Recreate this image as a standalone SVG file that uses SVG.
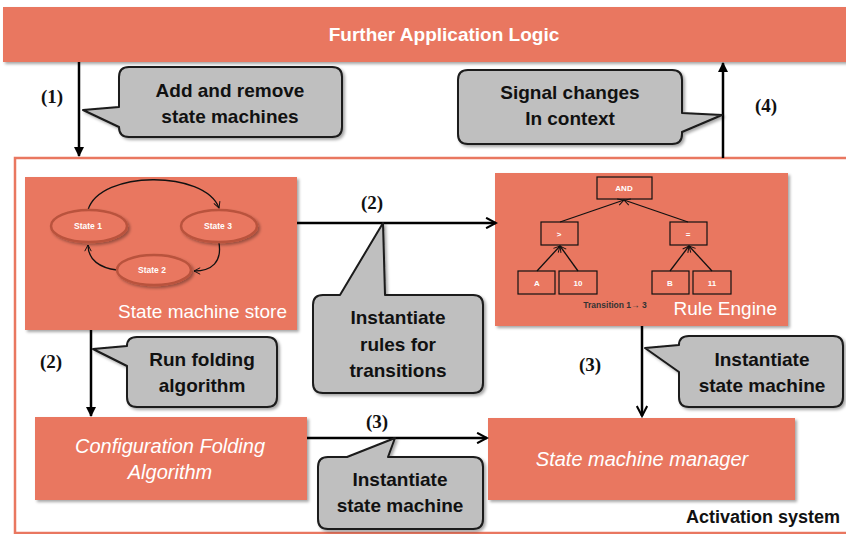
<svg xmlns="http://www.w3.org/2000/svg" width="846" height="534" viewBox="0 0 846 534">
<defs>
<style>
.box{fill:#E97760;}
.sh{filter:url(#shadow);}
.co{fill:#BFBFBF;stroke:#1a1a1a;stroke-width:2;stroke-linejoin:round;}
.ct{font-family:"Liberation Sans",Arial,sans-serif;font-weight:bold;font-size:19px;fill:#111;text-anchor:middle;}
.wt{font-family:"Liberation Sans",Arial,sans-serif;font-size:19px;fill:#fff;}
.wi{font-family:"Liberation Sans",Arial,sans-serif;font-size:20px;fill:#fff;font-style:italic;text-anchor:middle;}
.num{font-family:"Liberation Serif","Times New Roman",serif;font-weight:bold;font-size:19px;fill:#111;text-anchor:middle;}
.ar{fill:none;stroke:#000;stroke-width:2.5;}
.st{fill:#E97760;stroke:#B9533D;stroke-width:2.5;}
.sl{font-family:"Liberation Sans",Arial,sans-serif;font-weight:bold;font-size:8.5px;fill:#fff;text-anchor:middle;}
.ta{fill:none;stroke:#111;stroke-width:1.3;}
.tb{fill:none;stroke:#111;stroke-width:1.2;}
.tl{font-family:"Liberation Sans",Arial,sans-serif;font-weight:bold;font-size:8px;fill:#fff;text-anchor:middle;}
</style>
<filter id="shadow" x="-10%" y="-10%" width="130%" height="130%">
<feDropShadow dx="2" dy="2" stdDeviation="1.5" flood-color="#000" flood-opacity="0.35"/>
</filter>
<marker id="fill" viewBox="0 0 10 10" refX="9" refY="5" markerWidth="4" markerHeight="4" orient="auto" markerUnits="strokeWidth">
<path d="M0,0 L10,5 L0,10 Z" fill="#000"/>
</marker>
<marker id="open" viewBox="0 0 12 12" refX="10.5" refY="6" markerWidth="5" markerHeight="5" orient="auto" markerUnits="strokeWidth">
<path d="M1,1 L10.5,6 L1,11" fill="none" stroke="#000" stroke-width="2"/>
</marker>
<marker id="small" viewBox="0 0 12 12" refX="10.5" refY="6" markerWidth="6" markerHeight="6" orient="auto" markerUnits="strokeWidth">
<path d="M1,1 L10.5,6 L1,11" fill="none" stroke="#111" stroke-width="1.5"/>
</marker>
</defs>

<rect x="0" y="0" width="846" height="534" fill="#fff"/>

<g id="further-application-logic">
<rect class="box sh" x="3" y="7" width="850" height="55"/>
<text x="444" y="41" text-anchor="middle" font-family="'Liberation Sans',Arial,sans-serif" font-weight="bold" font-size="19" fill="#fff">Further Application Logic</text>
</g>

<g id="activation-system">
<rect x="15" y="158" width="845" height="375" fill="none" stroke="#E97760" stroke-width="2.5"/>
<text x="840" y="523" text-anchor="end" font-family="'Liberation Sans',Arial,sans-serif" font-weight="bold" font-size="18" fill="#111">Activation system</text>
</g>

<g id="state-machine-store">
<rect class="box sh" x="25" y="177" width="272" height="153"/>
<path class="ta" d="M88,210 C100,170 205,170 219,208" marker-end="url(#small)"/>
<path class="ta" d="M219,243 C222,262 212,271 194,271" marker-end="url(#small)"/>
<path class="ta" d="M117,270 C100,268 88,260 88,245" marker-end="url(#small)"/>
<ellipse class="st sh" cx="89" cy="226" rx="38" ry="16"/>
<ellipse class="st sh" cx="219" cy="226" rx="38" ry="16"/>
<ellipse class="st sh" cx="154" cy="270" rx="37" ry="15"/>
<text class="sl" x="88" y="229">State 1</text>
<text class="sl" x="218" y="229">State 3</text>
<text class="sl" x="152" y="273">State 2</text>
<text class="wt" x="287" y="318" text-anchor="end">State machine store</text>
</g>

<g id="rule-engine">
<rect class="box sh" x="495" y="173" width="293" height="153"/>
<path class="ta" d="M560,222 L624,200" marker-end="url(#small)"/>
<path class="ta" d="M688,222 L624,200" marker-end="url(#small)"/>
<path class="ta" d="M537,271 L560,246" marker-end="url(#small)"/>
<path class="ta" d="M578,271 L560,246" marker-end="url(#small)"/>
<path class="ta" d="M670,271 L689,246" marker-end="url(#small)"/>
<path class="ta" d="M712,271 L689,246" marker-end="url(#small)"/>
<rect class="tb" x="597" y="177" width="55" height="22"/>
<rect class="tb" x="541" y="222" width="37" height="23"/>
<rect class="tb" x="670" y="222" width="37" height="23"/>
<rect class="tb" x="518" y="271" width="37" height="23"/>
<rect class="tb" x="559" y="271" width="38" height="23"/>
<rect class="tb" x="652" y="271" width="37" height="23"/>
<rect class="tb" x="693" y="271" width="38" height="23"/>
<text class="tl" x="624" y="191">AND</text>
<text class="tl" x="559" y="237">&gt;</text>
<text class="tl" x="688" y="237">=</text>
<text class="tl" x="537" y="286">A</text>
<text class="tl" x="578" y="286">10</text>
<text class="tl" x="670" y="286">B</text>
<text class="tl" x="712" y="286">11</text>
<text x="615" y="308" text-anchor="middle" font-family="'Liberation Sans',Arial,sans-serif" font-weight="bold" font-size="8.5" fill="#333">Transition 1→ 3</text>
<text class="wt" x="777" y="315" text-anchor="end">Rule Engine</text>
</g>

<g id="configuration-folding-algorithm">
<rect class="box sh" x="35" y="417" width="272" height="83"/>
<text class="wi" x="170" y="453">Configuration Folding</text>
<text class="wi" x="170" y="479">Algorithm</text>
</g>

<g id="state-machine-manager">
<rect class="box sh" x="488" y="418" width="307" height="82"/>
<text class="wi" x="642" y="466">State machine manager</text>
</g>

<g id="connectors">
<line class="ar" x1="79" y1="62" x2="79" y2="156" marker-end="url(#fill)"/>
<line class="ar" x1="723" y1="158" x2="723" y2="63" marker-end="url(#fill)"/>
<line class="ar" x1="297" y1="223" x2="496" y2="223" marker-end="url(#open)"/>
<line class="ar" x1="91" y1="330" x2="91" y2="416" marker-end="url(#fill)"/>
<line class="ar" x1="307" y1="438" x2="487" y2="438" marker-end="url(#open)"/>
<line class="ar" x1="642" y1="326" x2="642" y2="416" marker-end="url(#open)"/>
<text class="num" x="52" y="103">(1)</text>
<text class="num" x="766" y="112">(4)</text>
<text class="num" x="372" y="209">(2)</text>
<text class="num" x="51" y="368">(2)</text>
<text class="num" x="377" y="428">(3)</text>
<text class="num" x="590" y="371">(3)</text>
</g>

<g id="callout-add-remove">
<path class="co sh" d="M129,67 H332 Q342,67 342,77 V127 Q342,137 332,137 H129 Q119,137 119,127 L83,110 L119,107 V77 Q119,67 129,67 Z"/>
<text class="ct" x="230" y="97">Add and remove</text>
<text class="ct" x="230" y="123">state machines</text>
</g>

<g id="callout-signal-changes">
<path class="co sh" d="M468,70 H672 Q682,70 682,80 V113 L722,115 L682,132 V134 Q682,144 672,144 H468 Q458,144 458,134 V80 Q458,70 468,70 Z"/>
<text class="ct" x="570" y="99">Signal changes</text>
<text class="ct" x="570" y="125">In context</text>
</g>

<g id="callout-instantiate-rules">
<path class="co sh" d="M323,295 H340 L383,223 L385,295 H473 Q483,295 483,305 V383 Q483,393 473,393 H323 Q313,393 313,383 V305 Q313,295 323,295 Z"/>
<text class="ct" x="398" y="324">Instantiate</text>
<text class="ct" x="398" y="351">rules for</text>
<text class="ct" x="398" y="377">transitions</text>
</g>

<g id="callout-run-folding">
<path class="co sh" d="M137,337 H267 Q277,337 277,347 V397 Q277,407 267,407 H137 Q127,407 127,397 V366 L93,349 L127,346 Q127,337 137,337 Z"/>
<text class="ct" x="202" y="366">Run folding</text>
<text class="ct" x="202" y="392">algorithm</text>
</g>

<g id="callout-instantiate-sm-bottom">
<path class="co sh" d="M328,457 H347 L395,438 L388,457 H473 Q483,457 483,467 V519 Q483,529 473,529 H328 Q318,529 318,519 V467 Q318,457 328,457 Z"/>
<text class="ct" x="400" y="486">Instantiate</text>
<text class="ct" x="400" y="512">state machine</text>
</g>

<g id="callout-instantiate-sm-right">
<path class="co sh" d="M689,336 H833 Q843,336 843,346 V397 Q843,407 833,407 H689 Q679,407 679,397 V372 L645,348 L679,345 Q679,336 689,336 Z"/>
<text class="ct" x="762" y="366">Instantiate</text>
<text class="ct" x="762" y="392">state machine</text>
</g>
</svg>
